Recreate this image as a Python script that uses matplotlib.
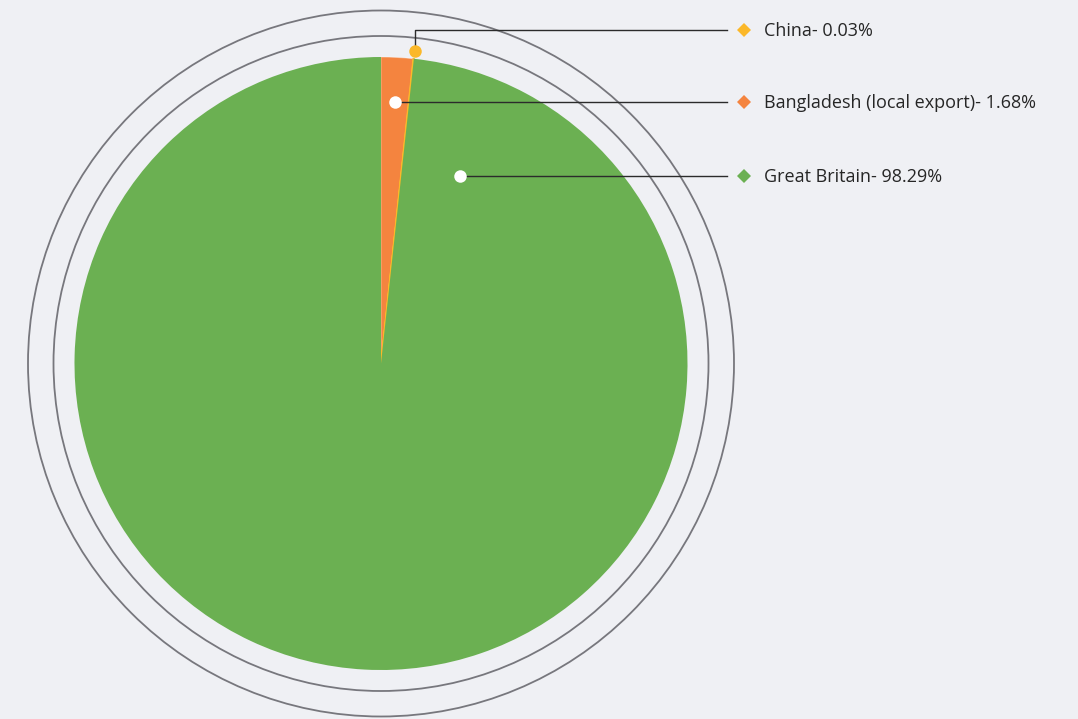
import numpy as np
import matplotlib.pyplot as plt

# --- data ---
countries = ["Bangladesh (local export)", "China", "Great Britain"]
shares = [1.68, 0.03, 98.29]
colors = ["#f4843f", "#fbb829", "#6bb052"]

# legend order (top to bottom)
legend_order = ["China", "Bangladesh (local export)", "Great Britain"]

# --- layout (pixels) ---
W, H = 1078, 719
cx, cy, R = 381, 363.5, 306.5
ring_radii = [327.5, 353]
bg = "#eff0f4"

fig = plt.figure(figsize=(W / 100, H / 100), dpi=100, facecolor=bg)
ax = fig.add_axes([0, 0, 1, 1])
ax.set_facecolor(bg)

# y axis is inverted, so startangle=-90 is 12 o'clock and ccw in data = clockwise on screen
wedges, _ = ax.pie(shares, colors=colors, startangle=-90, counterclock=True,
                   center=(cx, cy), radius=R, wedgeprops=dict(linewidth=0))
wedges[1].set_edgecolor(colors[1])
wedges[1].set_linewidth(1.2)
wedges[0].set_edgecolor((1, 1, 1, 0.35))
wedges[0].set_linewidth(0.8)

# pie() resets the limits, so set them afterwards
ax.set_xlim(0, W)
ax.set_ylim(H, 0)
ax.set_aspect("equal")
ax.axis("off")

for r in ring_radii:
    ax.add_patch(plt.Circle((cx, cy), r, fill=False, edgecolor="#77777d", linewidth=1.3))

# label anchors: angle from 12 o'clock (deg, clockwise), radius fraction
anchors = {
    "Bangladesh (local export)": (3.05, 0.855, "white"),
    "China": (6.15, 1.025, colors[1]),
    "Great Britain": (22.8, 0.662, "white"),
}
label_y = {"China": 30, "Bangladesh (local export)": 102, "Great Britain": 175.5}
line_end = 727
diamond_x = 744
text_x = 764

for name in legend_order:
    ang, frac, dot_color = anchors[name]
    a = np.deg2rad(ang)
    px = cx + frac * R * np.sin(a)
    py = cy - frac * R * np.cos(a)
    ly = label_y[name]
    if abs(py - ly) > 2:
        ax.plot([px, px, line_end], [py, ly, ly], color="#2b2b2b", linewidth=1, zorder=4)
    else:
        ax.plot([px, line_end], [ly, ly], color="#2b2b2b", linewidth=1, zorder=4)
    ax.plot(px, py, "o", color=dot_color, markersize=9, markeredgewidth=0, zorder=5)
    i = countries.index(name)
    ax.plot(diamond_x, ly, "D", color=colors[i], markersize=7.5, markeredgewidth=0, zorder=5)
    ax.text(text_x, ly + 1.5, f"{name}- {shares[i]:.2f}%", fontsize=13, family="Open Sans",
            color="#262626", va="center", ha="left")

fig.savefig("out.png", dpi=100, facecolor=bg)
